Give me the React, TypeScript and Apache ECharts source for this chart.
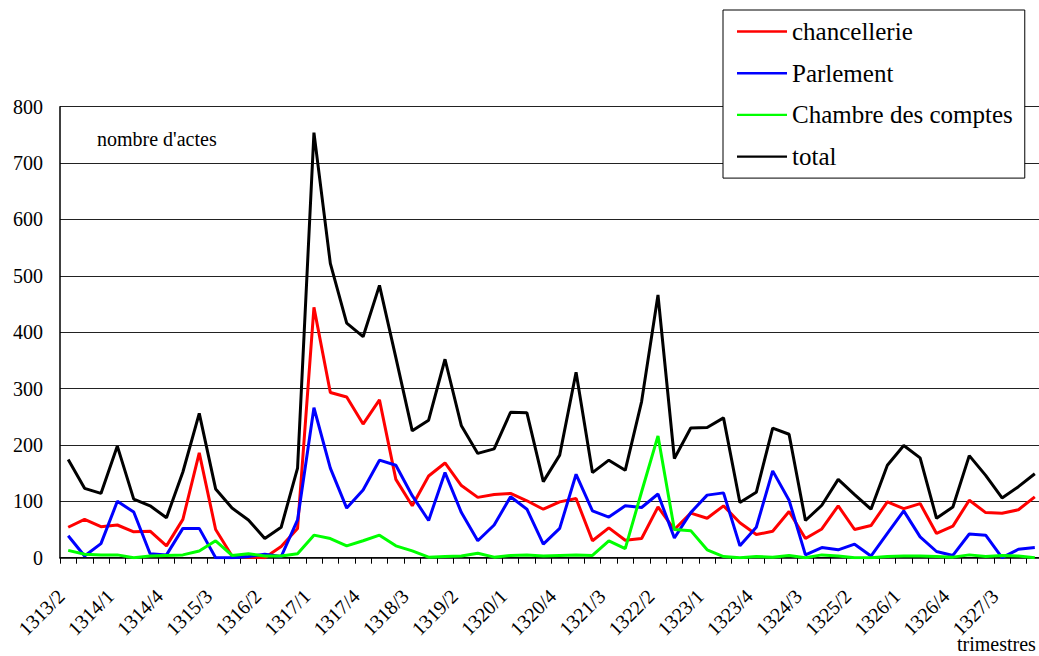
import React, { useEffect, useRef } from "react";
import * as echarts from "echarts";

const categories = [
  "1313/2", "1313/3", "1313/4",
  "1314/1", "1314/2", "1314/3", "1314/4",
  "1315/1", "1315/2", "1315/3", "1315/4",
  "1316/1", "1316/2", "1316/3", "1316/4",
  "1317/1", "1317/2", "1317/3", "1317/4",
  "1318/1", "1318/2", "1318/3", "1318/4",
  "1319/1", "1319/2", "1319/3", "1319/4",
  "1320/1", "1320/2", "1320/3", "1320/4",
  "1321/1", "1321/2", "1321/3", "1321/4",
  "1322/1", "1322/2", "1322/3", "1322/4",
  "1323/1", "1323/2", "1323/3", "1323/4",
  "1324/1", "1324/2", "1324/3", "1324/4",
  "1325/1", "1325/2", "1325/3", "1325/4",
  "1326/1", "1326/2", "1326/3", "1326/4",
  "1327/1", "1327/2", "1327/3", "1327/4",
  "1328/1",
];

const chancellerie = [54, 68, 55, 58, 46, 47, 21, 68, 186, 50, 3, 1, 0, 20, 52, 444, 293, 285, 237, 280, 139, 92, 145, 168, 128, 107, 112, 114, 101, 86, 99, 105, 30, 53, 31, 34, 90, 50, 79, 70, 92, 62, 41, 47, 82, 34, 51, 92, 50, 57, 99, 87, 96, 43, 56, 102, 80, 79, 85, 108];
const parlement = [39, 3, 25, 100, 81, 7, 5, 52, 52, 0, 0, 2, 6, 2, 67, 266, 159, 88, 120, 173, 164, 110, 66, 151, 80, 30, 58, 108, 86, 24, 52, 148, 83, 72, 92, 89, 113, 35, 80, 111, 115, 21, 54, 154, 102, 5, 18, 14, 24, 3, 43, 83, 37, 11, 4, 42, 40, 0, 15, 18];
const chambre = [13, 6, 5, 5, 0, 3, 4, 5, 12, 30, 4, 7, 3, 3, 7, 40, 34, 21, 30, 40, 21, 12, 1, 2, 3, 8, 1, 4, 5, 3, 4, 5, 4, 30, 16, 117, 216, 50, 48, 14, 2, 0, 2, 1, 4, 0, 5, 3, 0, 0, 2, 3, 3, 2, 1, 5, 2, 4, 3, 0];
const total = [174, 123, 114, 198, 104, 92, 71, 152, 256, 122, 88, 67, 34, 54, 159, 754, 522, 416, 392, 483, 355, 225, 244, 352, 234, 185, 193, 258, 257, 135, 182, 329, 151, 173, 155, 277, 466, 176, 230, 231, 248, 98, 116, 230, 219, 66, 93, 139, 112, 86, 164, 199, 177, 70, 90, 181, 146, 106, 126, 149];

const seriesNames = ["chancellerie", "Parlement", "Chambre des comptes", "total"];
const seriesColors = ["#ff0000", "#0000ff", "#00ff00", "#000000"];
const seriesValues = [chancellerie, parlement, chambre, total];

const FONT = "Liberation Serif";
const LEGEND_ICON = "path://M0 0H0.01V0.01H0Z M0 11.3H50V13.7H0Z M49.99 24.99H50V25H49.99Z";

export default function App() {
  const ref = useRef<HTMLDivElement>(null);
  useEffect(() => {
    if (!ref.current) return;
    const chart = echarts.init(ref.current, undefined, { renderer: "svg" });
    chart.setOption({
      animation: false,
      backgroundColor: "#ffffff",
      textStyle: { fontFamily: FONT },
      grid: { left: 60, top: 106.7, width: 983, height: 451 },
      legend: {
        orient: "vertical",
        left: 723,
        top: 10,
        padding: [9, 12, 9, 14],
        itemWidth: 50,
        itemHeight: 25,
        itemGap: 16.7,
        backgroundColor: "#ffffff",
        borderColor: "#000000",
        borderWidth: 1,
        textStyle: { fontFamily: FONT, fontSize: 25, color: "#000", lineHeight: 25 },
        data: seriesNames.map((name) => ({ name, icon: LEGEND_ICON })),
      },
      xAxis: {
        type: "category",
        data: categories,
        boundaryGap: true,
        axisLine: { show: true, lineStyle: { color: "#000", width: 1.5 } },
        axisTick: { show: true, interval: 0, length: 6, lineStyle: { color: "#000" } },
        axisLabel: {
          interval: 2,
          rotate: 45,
          margin: 42,
          verticalAlign: "bottom",
          fontFamily: FONT,
          fontSize: 20,
          color: "#000",
        },
        splitLine: { show: false },
      },
      yAxis: {
        type: "value",
        min: 0,
        max: 800,
        interval: 100,
        axisLine: { show: true, lineStyle: { color: "#000", width: 1.5 } },
        axisTick: { show: false },
        axisLabel: { margin: 17, fontFamily: FONT, fontSize: 20, color: "#000" },
        splitLine: { show: true, lineStyle: { color: "#222", width: 1 } },
      },
      graphic: [
        {
          type: "text",
          left: 97,
          top: 129,
          style: { text: "nombre d'actes", fontFamily: FONT, fontSize: 20, fill: "#000" },
        },
        {
          type: "text",
          left: 957,
          top: 634,
          style: { text: "trimestres", fontFamily: FONT, fontSize: 20, fill: "#000" },
        },
      ],
      series: seriesNames.map((name, k) => ({
        name,
        type: "line",
        data: seriesValues[k],
        symbol: "none",
        showSymbol: false,
        lineStyle: { color: seriesColors[k], width: 3 },
        itemStyle: { color: seriesColors[k] },
        z: 2 + k,
      })),
    });
    return () => chart.dispose();
  }, []);
  return (
    <div style={{ position: "absolute", left: 0, top: 0, width: 1039, height: 656, overflow: "hidden" }}>
      <div ref={ref} style={{ width: 1045, height: 656 }} />
    </div>
  );
}
